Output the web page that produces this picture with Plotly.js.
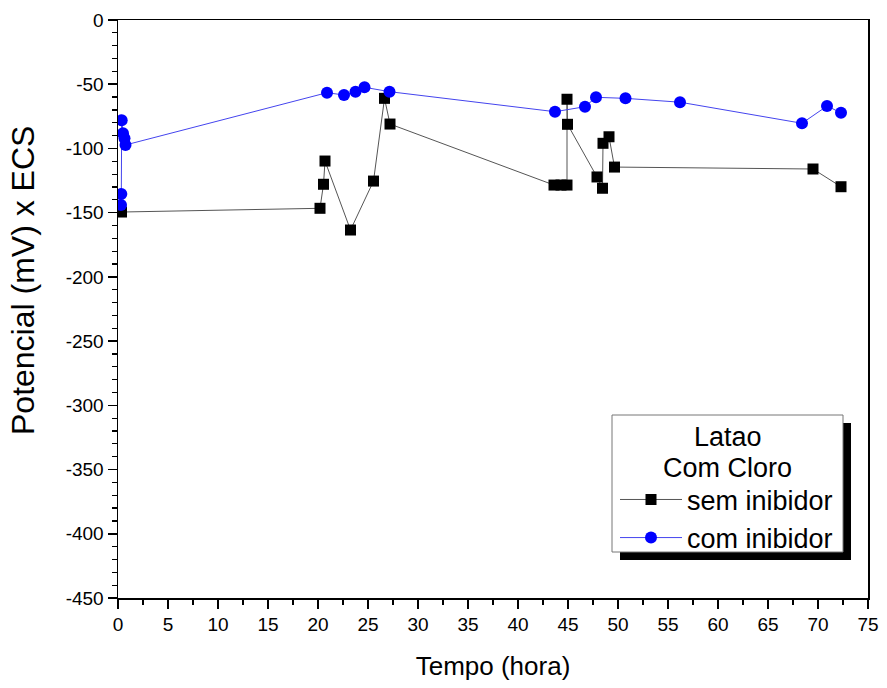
<!DOCTYPE html>
<html>
<head>
<meta charset="utf-8">
<script src="https://cdn.plot.ly/plotly-3.0.1.min.js"></script>
<style>html,body{margin:0;padding:0;background:#fff;}#chart{width:887px;height:688px;}</style>
</head>
<body>
<div id="chart"></div>
<script>
// Data
var semX = [0.35, 20.2, 20.55, 20.7, 23.25, 25.55, 26.65, 27.2, 43.6, 44.3, 44.9, 44.9, 44.95, 47.9, 48.45, 48.5, 49.1, 49.65, 69.5, 72.3];
var semY = [-149.5, -146.6, -127.9, -109.8, -163.5, -125.4, -61, -81, -128.5, -128.5, -128.5, -61.7, -81.2, -122.2, -131, -96, -90.9, -114.5, -116, -129.8];

var comX = [0.3, 0.33, 0.37, 0.5, 0.65, 0.75, 20.9, 22.6, 23.75, 24.65, 27.15, 43.7, 46.7, 47.8, 50.75, 56.2, 68.4, 70.9, 72.3];
var comY = [-144, -135.5, -78, -88.2, -92, -97.3, -56.6, -58.4, -55.8, -52.4, -55.8, -71.4, -67.5, -60.2, -61, -64, -80.4, -67, -72.2];

var xTickVals = [0, 5, 10, 15, 20, 25, 30, 35, 40, 45, 50, 55, 60, 65, 70, 75];
var xTickText = ['0', '5', '10', '15', '20', '25', '30', '35', '40', '45', '50', '55', '60', '65', '70', '75'];
var yTickVals = [0, -50, -100, -150, -200, -250, -300, -350, -400, -450];
var yTickText = ['0', '-50', '-100', '-150', '-200', '-250', '-300', '-350', '-400', '-450'];

var seriesNames = ['sem inibidor', 'com inibidor'];
var legendTitleLines = ['Latao', 'Com Cloro'];
var xTitle = 'Tempo (hora)';
var yTitle = 'Potencial (mV) x ECS';

var font = 'Arial, "Liberation Sans", sans-serif';

var traces = [
  {
    x: semX, y: semY, name: seriesNames[0], type: 'scatter', mode: 'lines+markers',
    line: {color: '#555555', width: 1},
    marker: {symbol: 'square', size: 11, color: '#000000'}
  },
  {
    x: comX, y: comY, name: seriesNames[1], type: 'scatter', mode: 'lines+markers',
    line: {color: '#4444ee', width: 1},
    marker: {symbol: 'circle', size: 12, color: '#0000ff'}
  }
];

var axisCommon = {
  showgrid: false, zeroline: false, showline: true, linecolor: '#000', linewidth: 1.5,
  mirror: true, ticks: 'outside', tickcolor: '#000', tickwidth: 1.5, ticklen: 9,
  tickfont: {family: font, size: 19, color: '#000'}
};

// plot area (pixels) : x 118..868, y 20..598
var W = 887, H = 688, ML = 118, MR = 19, MT = 20, MB = 90;
var PW = W - ML - MR, PH = H - MT - MB;
function fx(px) { return (px - ML) / PW; }
function fy(py) { return 1 - (py - MT) / PH; }

var box = {l: 612, r: 843, t: 415, b: 552};
var off = 8;

var layout = {
  width: W, height: H,
  margin: {l: ML, r: MR, t: MT, b: MB},
  paper_bgcolor: '#fff', plot_bgcolor: '#fff',
  xaxis: Object.assign({}, axisCommon, {
    range: [0, 75], tickmode: 'array', tickvals: xTickVals, ticktext: xTickText,
    minor: {dtick: 2.5, ticks: 'outside', ticklen: 5, tickcolor: '#000', tickwidth: 1.2},
    title: {text: xTitle, font: {family: font, size: 26, color: '#000'}, standoff: 22}
  }),
  yaxis: Object.assign({}, axisCommon, {
    range: [-450, 0], tickmode: 'array', tickvals: yTickVals, ticktext: yTickText,
    minor: {dtick: 10, tick0: 0, ticks: 'outside', ticklen: 5, tickcolor: '#000', tickwidth: 1.2}
  }),
  showlegend: true,
  legend: {
    x: fx(box.l), y: fy(box.t + 60), xanchor: 'left', yanchor: 'top',
    bgcolor: 'rgba(0,0,0,0)', borderwidth: 0,
    font: {family: font, size: 27, color: '#000'},
    itemwidth: 62, tracegroupgap: 0
  },
  shapes: [
    {type: 'rect', xref: 'paper', yref: 'paper', x0: fx(box.l + off), x1: fx(box.r + off),
     y0: fy(box.b + off), y1: fy(box.t + off), fillcolor: '#000', line: {width: 0}, layer: 'above'},
    {type: 'rect', xref: 'paper', yref: 'paper', x0: fx(box.l), x1: fx(box.r),
     y0: fy(box.b), y1: fy(box.t), fillcolor: '#fff', line: {width: 1, color: '#777'}, layer: 'above'}
  ],
  annotations: [
    {xref: 'paper', yref: 'paper', x: fx((box.l + box.r) / 2), y: fy(437), text: legendTitleLines[0],
     showarrow: false, xanchor: 'center', yanchor: 'middle', font: {family: font, size: 27, color: '#000'}},
    {xref: 'paper', yref: 'paper', x: fx((box.l + box.r) / 2), y: fy(468), text: legendTitleLines[1],
     showarrow: false, xanchor: 'center', yanchor: 'middle', font: {family: font, size: 27, color: '#000'}},
    {xref: 'paper', yref: 'paper', x: fx(23), y: fy(281), text: yTitle, textangle: -90,
     showarrow: false, xanchor: 'center', yanchor: 'middle', font: {family: font, size: 32, color: '#000'}}
  ]
};

Plotly.newPlot('chart', traces, layout, {displayModeBar: false, staticPlot: true}).then(function (gd) {
  var t = gd.querySelector('g.legend text.legendtext');
  if (!t) return;
  var r = t.getBoundingClientRect();
  var host = gd.getBoundingClientRect();
  var cy = (r.top + r.bottom) / 2 - host.top;
  var lx = r.left - host.left;
  var dy = 501 - cy, dx = 687 - lx;
  Plotly.relayout(gd, {
    'legend.x': gd._fullLayout.legend.x + dx / PW,
    'legend.y': gd._fullLayout.legend.y - dy / PH
  });
});
</script>
</body>
</html>
